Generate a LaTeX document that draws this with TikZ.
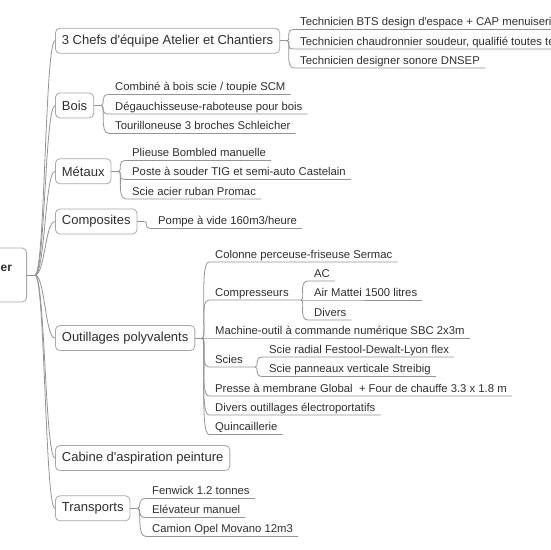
\documentclass[tikz,border=0pt]{standalone}
\usepackage{fontspec}
\setmainfont{Liberation Sans}
\usetikzlibrary{calc}
\definecolor{connc}{HTML}{949494}
\definecolor{boxc}{HTML}{A8A8A8}
\definecolor{txt}{HTML}{2E2E2E}
\newcommand\apos{\textquotesingle}
\newcommand\twig[2]{\draw[conn] (#1) .. controls +(5,0) and +(-10,0) .. ($(#2.base west)+(-6,4)$) -- ($(#2.base east)+(5,4)$);}
\begin{document}
\begin{tikzpicture}[x=1pt,y=-1pt,
  topic/.style={draw=boxc, line width=0.8pt, rounded corners=4.5pt, fill=white,
    font=\fontsize{13}{15}\selectfont, text=txt, inner xsep=6.5pt, inner ysep=0pt,
    minimum height=25pt, anchor=west},
  leaf/.style={font=\fontsize{11.3}{13}\selectfont, text=txt, inner sep=0pt, anchor=base west},
  conn/.style={draw=connc, line width=0.8pt},
]
\useasboundingbox (0,0) rectangle (550,550);

% root
\node[topic, anchor=east, minimum width=100pt, minimum height=54pt] (root) at (27,275) {};
\node[font=\bfseries\fontsize{12}{14}\selectfont, text=txt, inner sep=0pt, anchor=base west] (rootlbl) at (0.5,271.5) {er};

% main topics
\node[topic] (chefs) at (55,40.8) {3 Chefs d\apos équipe Atelier et Chantiers};
\node[topic] (bois) at (55,105.5) {Bois};
\node[topic] (metaux) at (55,171.3) {Métaux};
\node[topic] (compo) at (55,221.5) {Composites};
\node[topic] (outil) at (55,338) {Outillages polyvalents};
\node[topic] (cabine) at (55,458) {Cabine d\apos aspiration peinture};
\node[topic] (transp) at (55,508.3) {Transports};

% leaves
\node[leaf] (c1) at (300,25.5) {Technicien BTS design d\apos espace + CAP menuiserie};
\node[leaf] (c2) at (300,45) {Technicien chaudronnier soudeur, qualifié toutes te};
\node[leaf] (c3) at (300,64) {Technicien designer sonore DNSEP};

\node[leaf] (b1) at (115,90.5) {Combiné à bois scie / toupie SCM};
\node[leaf] (b2) at (115,110) {Dégauchisseuse-raboteuse pour bois};
\node[leaf] (b3) at (115,129.5) {Tourilloneuse 3 broches Schleicher};

\node[leaf] (m1) at (132,156.5) {Plieuse Bombled manuelle};
\node[leaf] (m2) at (132,175.5) {Poste à souder TIG et semi-auto Castelain};
\node[leaf] (m3) at (132,195) {Scie acier ruban Promac};

\node[leaf] (p1) at (158,224.5) {Pompe à vide 160m3/heure};

\node[leaf] (o1) at (215,258) {Colonne perceuse-friseuse Sermac};
\node[leaf] (o2) at (215,296) {Compresseurs};
\node[leaf] (o21) at (314,277) {AC};
\node[leaf] (o22) at (314,296) {Air Mattei 1500 litres};
\node[leaf] (o23) at (314,316) {Divers};
\node[leaf] (o3) at (215,334) {Machine-outil à commande numérique SBC 2x3m};
\node[leaf] (o4) at (215,363) {Scies};
\node[leaf] (o41) at (269,353) {Scie radial Festool-Dewalt-Lyon flex};
\node[leaf] (o42) at (269,372.5) {Scie panneaux verticale Streibig};
\node[leaf] (o5) at (215,392) {Presse à membrane Global~ + Four de chauffe 3.3 x 1.8 m};
\node[leaf] (o6) at (215,411) {Divers outillages électroportatifs};
\node[leaf] (o7) at (215,430.5) {Quincaillerie};

\node[leaf] (t1) at (152,494.5) {Fenwick 1.2 tonnes};
\node[leaf] (t2) at (152,513.5) {Elévateur manuel};
\node[leaf] (t3) at (152,532.5) {Camion Opel Movano 12m3};

% root connectors
\coordinate (j0) at ($(root.east)+(8,0)$);
\draw[conn] (root.east) -- (j0);
\foreach \t in {chefs,bois,metaux,compo,outil,cabine,transp}
  \draw[conn] (j0) .. controls +(10,0) and +(-10,0) .. (\t.west);

% junctions
\foreach \t in {chefs,bois,metaux,compo,outil,transp}{
  \coordinate (j\t) at ($(\t.east)+(7,0)$);
  \draw[conn] (\t.east) -- (j\t);
}

\twig{jchefs}{c1}\twig{jchefs}{c2}\twig{jchefs}{c3}
\twig{jbois}{b1}\twig{jbois}{b2}\twig{jbois}{b3}
\twig{jmetaux}{m1}\twig{jmetaux}{m2}\twig{jmetaux}{m3}
\twig{jcompo}{p1}
\twig{joutil}{o1}\twig{joutil}{o3}\twig{joutil}{o5}\twig{joutil}{o6}\twig{joutil}{o7}
\twig{jtransp}{t1}\twig{jtransp}{t2}\twig{jtransp}{t3}

% sub-branches
\coordinate (jcomp) at ($(o2.base east)+(12,4)$);
\draw[conn] (joutil) .. controls +(5,0) and +(-10,0) .. ($(o2.base west)+(-6,4)$) -- (jcomp);
\twig{jcomp}{o21}\twig{jcomp}{o22}\twig{jcomp}{o23}

\coordinate (jscies) at ($(o4.base east)+(12,4)$);
\draw[conn] (joutil) .. controls +(5,0) and +(-10,0) .. ($(o4.base west)+(-6,4)$) -- (jscies);
\twig{jscies}{o41}\twig{jscies}{o42}
\end{tikzpicture}
\end{document}
